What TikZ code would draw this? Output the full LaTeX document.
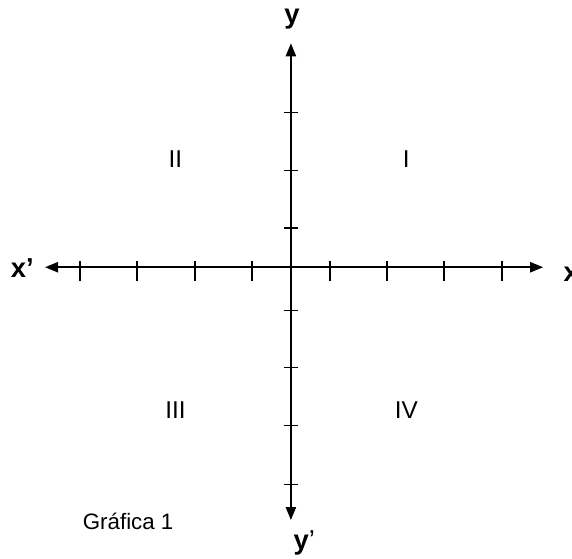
\documentclass[tikz,border=0pt]{standalone}
\usepackage{fontspec}
\setmainfont{Liberation Sans}
\usetikzlibrary{arrows.meta}
\tikzset{
  axislbl/.style={inner sep=0pt, font=\bfseries\fontsize{13.5}{16}\selectfont},
  quadlbl/.style={inner sep=0pt, font=\fontsize{12}{14}\selectfont},
  xtick/.style={line width=1pt},
  ytick/.style={line width=0.5pt}
}
\begin{document}
\begin{tikzpicture}[>={Triangle[length=6.4pt,width=5pt]}, line width=0.9pt]
  \useasboundingbox (-5.04,-5.04) rectangle (4.87,4.63);
  \coordinate (xl) at (-4.26,0);
  \coordinate (xr) at (4.37,0);
  \coordinate (yb) at (0,-4.38);
  \coordinate (yt) at (0,3.88);
  \draw[<->] (xl) -- (xr);
  \draw[<->] (yb) -- (yt);

  % ticks on x
  \draw[xtick] (-3.66,0.1) -- (-3.66,-0.23);
  \draw[xtick] (-2.66,0.1) -- (-2.66,-0.23);
  \draw[xtick] (-1.66,0.1) -- (-1.66,-0.23);
  \draw[xtick] (-0.67,0.1) -- (-0.67,-0.23);
  \draw[xtick] (0.67,0.1) -- (0.67,-0.23);
  \draw[xtick] (1.66,0.1) -- (1.66,-0.23);
  \draw[xtick] (2.66,0.1) -- (2.66,-0.23);
  \draw[xtick] (3.65,0.1) -- (3.65,-0.23);
  % ticks on y
  \draw[ytick] (-0.12,2.68) -- (0.12,2.68);
  \draw[ytick] (-0.12,1.67) -- (0.12,1.67);
  \draw[ytick] (-0.12,0.68) -- (0.12,0.68);
  \draw[ytick] (-0.12,-0.75) -- (0.12,-0.75);
  \draw[ytick] (-0.12,-1.74) -- (0.12,-1.74);
  \draw[ytick] (-0.12,-2.75) -- (0.12,-2.75);
  \draw[ytick] (-0.12,-3.76) -- (0.12,-3.76);

  \node[axislbl, anchor=base east] (xneg) at (-4.44,-0.17) {x’};
  \node[axislbl, anchor=base west] (xpos) at (4.71,-0.24) {x};
  \node[axislbl, anchor=base] (ypos) at (0.02,4.23) {y};
  \node[axislbl, anchor=base west] (yneg) at (0.03,-4.89) {y\mdseries’};

  \node[quadlbl] (qone) at (2,1.87) {I};
  \node[quadlbl] (qtwo) at (-2,1.87) {II};
  \node[quadlbl] (qthree) at (-2,-2.48) {III};
  \node[quadlbl] (qfour) at (2,-2.48) {IV};

  \node[inner sep=0pt, anchor=base west, font=\fontsize{11}{13}\selectfont] (caption) at (-3.62,-4.54) {Gráfica 1};
\end{tikzpicture}
\end{document}
